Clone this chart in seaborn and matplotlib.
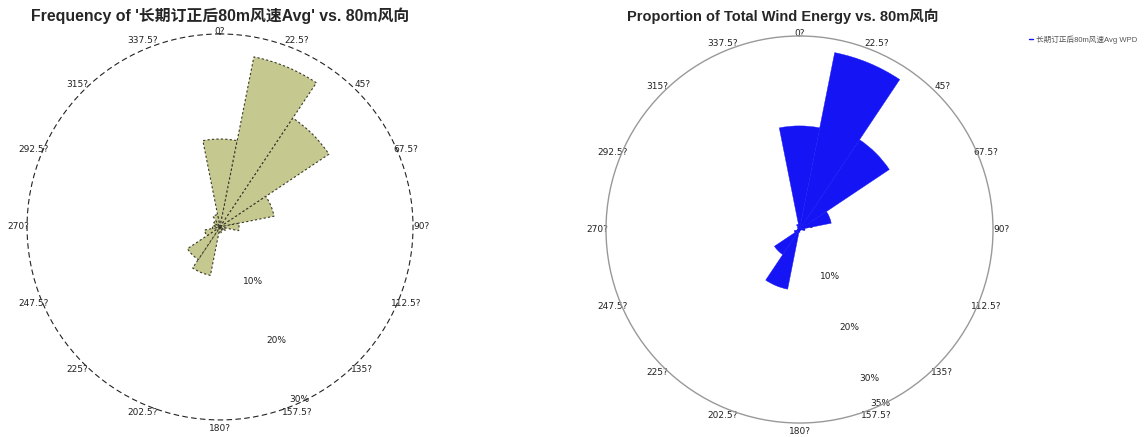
import numpy as np
import matplotlib
matplotlib.use("Agg")
import matplotlib.pyplot as plt
from matplotlib.lines import Line2D
import seaborn as sns

# wind direction sectors (deg) and labels as they appear in the reference
directions = [0, 22.5, 45, 67.5, 90, 112.5, 135, 157.5,
              180, 202.5, 225, 247.5, 270, 292.5, 315, 337.5]
dir_labels = ["0?", "22.5?", "45?", "67.5?", "90?", "112.5?", "135?", "157.5?",
              "180?", "202.5?", "225?", "247.5?", "270?", "292.5?", "315?", "337.5?"]

# frequency of wind speed per sector (%)
freq = [13.9, 27.4, 20.7, 8.7, 3.0, 1.0, 0.6, 0.6,
        1.0, 7.8, 6.2, 2.5, 1.2, 1.0, 1.2, 2.0]
# share of total wind energy per sector (%)
energy = [18.9, 32.9, 19.7, 5.9, 1.0, 0.3, 0.2, 0.2,
          0.5, 11.1, 5.5, 1.0, 0.4, 0.3, 0.5, 1.0]

freq_ticks = [0, 10, 20, 30]
energy_ticks = [0, 10, 20, 30, 35]

sns.set_theme(style="white")
plt.rcParams['font.family'] = ['DejaVu Sans', 'Noto Sans CJK SC']
CJK = ['Liberation Sans', 'Noto Sans CJK SC']

fig = plt.figure(figsize=(11.46, 4.37), dpi=100)
fig.patch.set_facecolor("white")

theta = np.deg2rad(directions)
width = np.deg2rad(22.5)


def setup_polar(ax, rmax, rticks):
    ax.set_theta_zero_location("N")
    ax.set_theta_direction(-1)
    ax.set_xticks(theta)
    ax.set_xticklabels(dir_labels, fontsize=6.5, color="#222222")
    ax.tick_params(axis="x", pad=-7)
    # the north label sits almost on the circle
    ax.xaxis.get_major_ticks()[0].set_pad(-11)
    ax.set_ylim(0, rmax)
    ax.set_yticks(rticks)
    ax.set_yticklabels([f"{t}%" for t in rticks], fontsize=6.5, color="#222222")
    ax.set_rlabel_position(158.5)
    ax.grid(False)
    ax.set_facecolor("white")


# left: frequency rose
ax1 = fig.add_axes([0.0236, 0.039, 0.3368, 0.8833], projection="polar")
setup_polar(ax1, 30.5, freq_ticks)
ax1.bar(theta, freq, width=width, bottom=0, color="#c6c98f",
        edgecolor="#3a3a2a", linewidth=0.8, linestyle=(0, (2, 2)), zorder=2)
ax1.spines["polar"].set_linestyle((0, (4, 4)))
ax1.spines["polar"].set_color("#222222")
ax1.spines["polar"].set_linewidth(0.8)

# right: energy rose
ax2 = fig.add_axes([0.5288, 0.032, 0.3377, 0.8856], projection="polar")
setup_polar(ax2, 35.3, energy_ticks)
ax2.bar(theta, energy, width=width, bottom=0, color="#1414f5",
        edgecolor="#1414f5", linewidth=0.3, zorder=2)
ax2.spines["polar"].set_color("#999999")
ax2.spines["polar"].set_linewidth(1.0)

fig.text(0.192, 0.963, "Frequency of '长期订正后80m风速Avg' vs. 80m风向",
         ha="center", va="center", fontsize=11.4, fontweight="bold", family=CJK)
fig.text(0.683, 0.963, "Proportion of Total Wind Energy vs. 80m风向",
         ha="center", va="center", fontsize=10.5, fontweight="bold", family=CJK)

handle = Line2D([0], [0], color="#1414f5", linewidth=1.0)
leg = fig.legend([handle], ["长期订正后80m风速Avg WPD"], loc="upper right",
                 bbox_to_anchor=(0.998, 0.935), frameon=False, handlelength=0.5,
                 handletextpad=0.3, prop={'family': CJK, 'size': 5.5})
for t in leg.get_texts():
    t.set_color("#555555")

fig.savefig("out.png", dpi=100, facecolor="white")
